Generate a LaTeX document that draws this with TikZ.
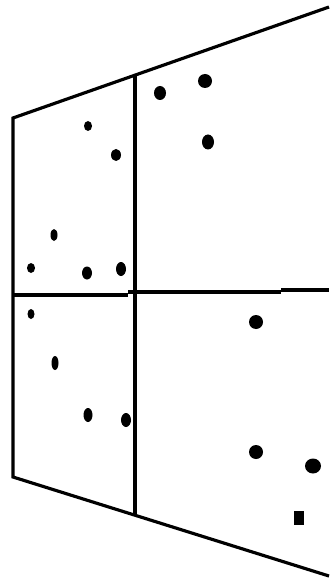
\documentclass[tikz,border=0pt]{standalone}
\usepackage{tikz}

\begin{document}
\begin{tikzpicture}[x=0.01cm,y=-0.01cm,line width=0.9pt]
\useasboundingbox (0,0) rectangle (329,579);

% outline of the plane
\draw (329,7) -- (13,118) -- (13,477) -- (329,576);

% dividers
\draw (135,74) -- (135,515);
\draw (13,295) -- (128,295);
\draw (128,292) -- (281,292);
\draw (281,290) -- (329,290);

% points, upper left
\foreach \px/\py/\rx/\ry in {88/126/4/5, 116/155/5/6, 54/235/3.5/6, 31/268/4/5,
    87/273/5/6.5, 121/269/5/7}
  \fill (\px,\py) ellipse ({\rx} and {\ry});

% points, lower left
\foreach \px/\py/\rx/\ry in {31/314/3.5/5, 55/363/3.5/7, 88/415/4.5/7, 126/420/5/7}
  \fill (\px,\py) ellipse ({\rx} and {\ry});

% points, right
\foreach \px/\py/\rx/\ry in {160/93/6/7, 205/81/7/7, 208/142/6/7.5,
    256/322/7/7, 256/452/7/7, 313/466/8/7.5}
  \fill (\px,\py) ellipse ({\rx} and {\ry});
\fill (294,511) rectangle (304,525);
\end{tikzpicture}
\end{document}
